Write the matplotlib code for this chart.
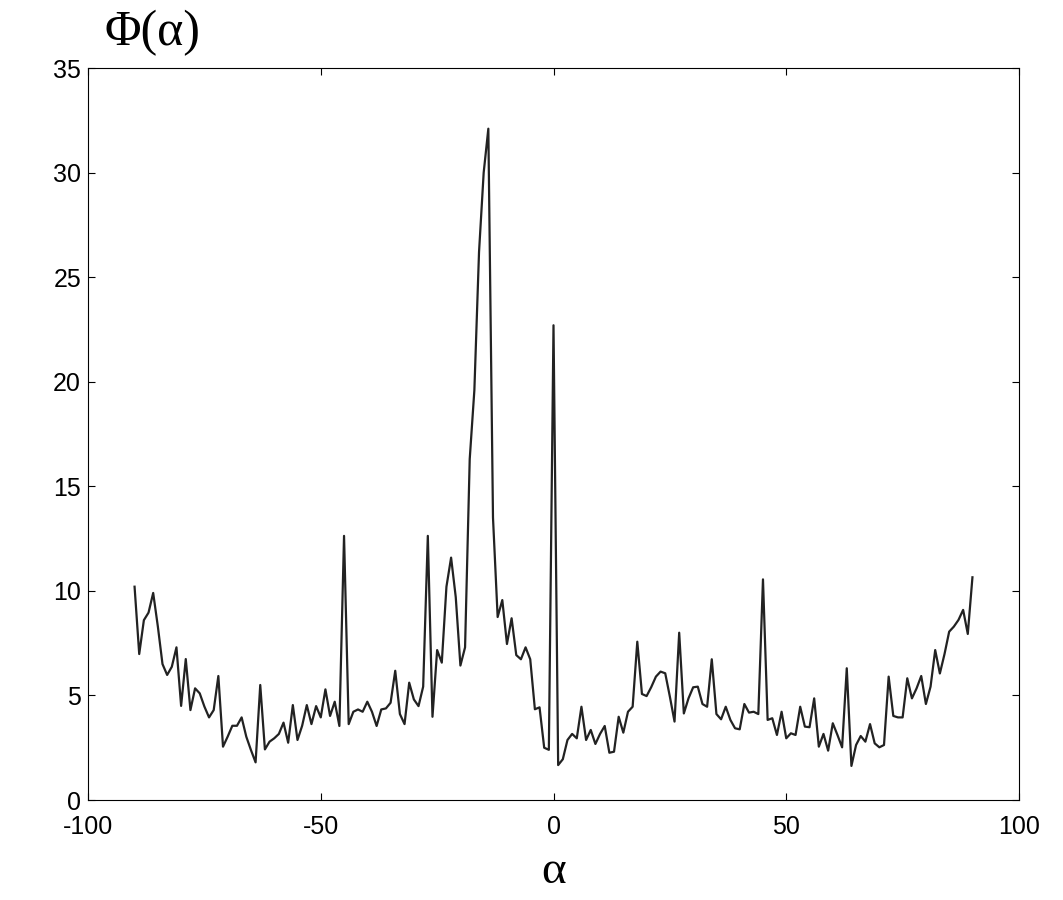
import numpy as np
import matplotlib.pyplot as plt

plt.rcParams['axes.unicode_minus'] = False
plt.rcParams['mathtext.fontset'] = 'custom'
plt.rcParams['mathtext.rm'] = 'Liberation Serif'

# angle grid (degrees) and measured phi values
alpha = np.arange(-90, 91)
phi = [
    10.2, 6.98, 8.6, 8.96, 9.9, 8.3, 6.5, 5.98, 6.37, 7.3,      # -90 .. -81
    4.5, 6.74, 4.3, 5.34, 5.1, 4.47, 3.95, 4.3, 5.93, 2.55,     # -80 .. -71
    3.03, 3.55, 3.55, 3.95, 3.03, 2.39, 1.8, 5.5, 2.42, 2.79,   # -70 .. -61
    2.95, 3.16, 3.7, 2.74, 4.54, 2.87, 3.55, 4.54, 3.63, 4.49,  # -60 .. -51
    3.95, 5.29, 4.02, 4.7, 3.54, 12.63, 3.63, 4.22, 4.33, 4.22, # -50 .. -41
    4.7, 4.22, 3.54, 4.33, 4.38, 4.65, 6.18, 4.11, 3.63, 5.61,  # -40 .. -31
    4.81, 4.49, 5.42, 12.63, 3.98, 7.17, 6.57, 10.2, 11.59, 9.7, # -30 .. -21
    6.43, 7.3, 16.3, 19.6, 26.2, 30.0, 32.1, 13.5, 8.75, 9.56,  # -20 .. -11
    7.46, 8.69, 6.93, 6.73, 7.3, 6.73, 4.34, 4.43, 2.5, 2.4,    # -10 .. -1
    22.7,                                                       # 0
    1.67, 1.95, 2.87, 3.16, 2.95, 4.46, 2.87, 3.35, 2.68, 3.16, # 1 .. 10
    3.54, 2.26, 2.31, 3.98, 3.22, 4.22, 4.46, 7.57, 5.07, 4.97, # 11 .. 20
    5.4, 5.9, 6.14, 6.06, 4.94, 3.75, 8.0, 4.14, 4.86, 5.39,    # 21 .. 30
    5.42, 4.59, 4.46, 6.73, 4.11, 3.86, 4.46, 3.83, 3.43, 3.38, # 31 .. 40
    4.59, 4.18, 4.22, 4.11, 10.55, 3.83, 3.91, 3.11, 4.22, 2.95, # 41 .. 50
    3.19, 3.11, 4.46, 3.51, 3.48, 4.86, 2.55, 3.16, 2.36, 3.67, # 51 .. 60
    3.11, 2.52, 6.3, 1.63, 2.63, 3.06, 2.79, 3.63, 2.71, 2.52,  # 61 .. 70
    2.63, 5.9, 4.02, 3.95, 3.95, 5.82, 4.86, 5.34, 5.93, 4.59,  # 71 .. 80
    5.42, 7.17, 6.05, 6.98, 8.05, 8.29, 8.61, 9.09, 7.94, 10.65, # 81 .. 90
]

xticks = [-100, -50, 0, 50, 100]
yticks = [0, 5, 10, 15, 20, 25, 30, 35]

fig = plt.figure(figsize=(10.63, 9), dpi=100)
ax = fig.add_axes([0.0828, 0.1111, 0.8758, 0.8133])

ax.plot(alpha, phi, color='#222222', lw=1.6)

ax.set_xlim(-100, 100)
ax.set_ylim(0, 35)
ax.set_xticks(xticks)
ax.set_yticks(yticks)
ax.tick_params(direction='in', top=True, right=True, length=5, width=0.8,
               labelsize=18)
ax.tick_params(axis='x', pad=11)
ax.tick_params(axis='y', pad=5)
for lab in ax.get_xticklabels() + ax.get_yticklabels():
    lab.set_family('Liberation Sans')
for s in ax.spines.values():
    s.set_linewidth(0.8)

# axis labels, serif like the original (mathtext keeps the box tight)
ax.set_xlabel(r'$\mathrm{α}$', fontsize=34, va='center')
ax.xaxis.set_label_coords(0.5, -0.096)
fig.text(0.098, 1 - 33 / 900, 'Φ(α)', fontsize=36, family='Liberation Serif',
         ha='left', va='center')

fig.savefig('out.png', dpi=100)
